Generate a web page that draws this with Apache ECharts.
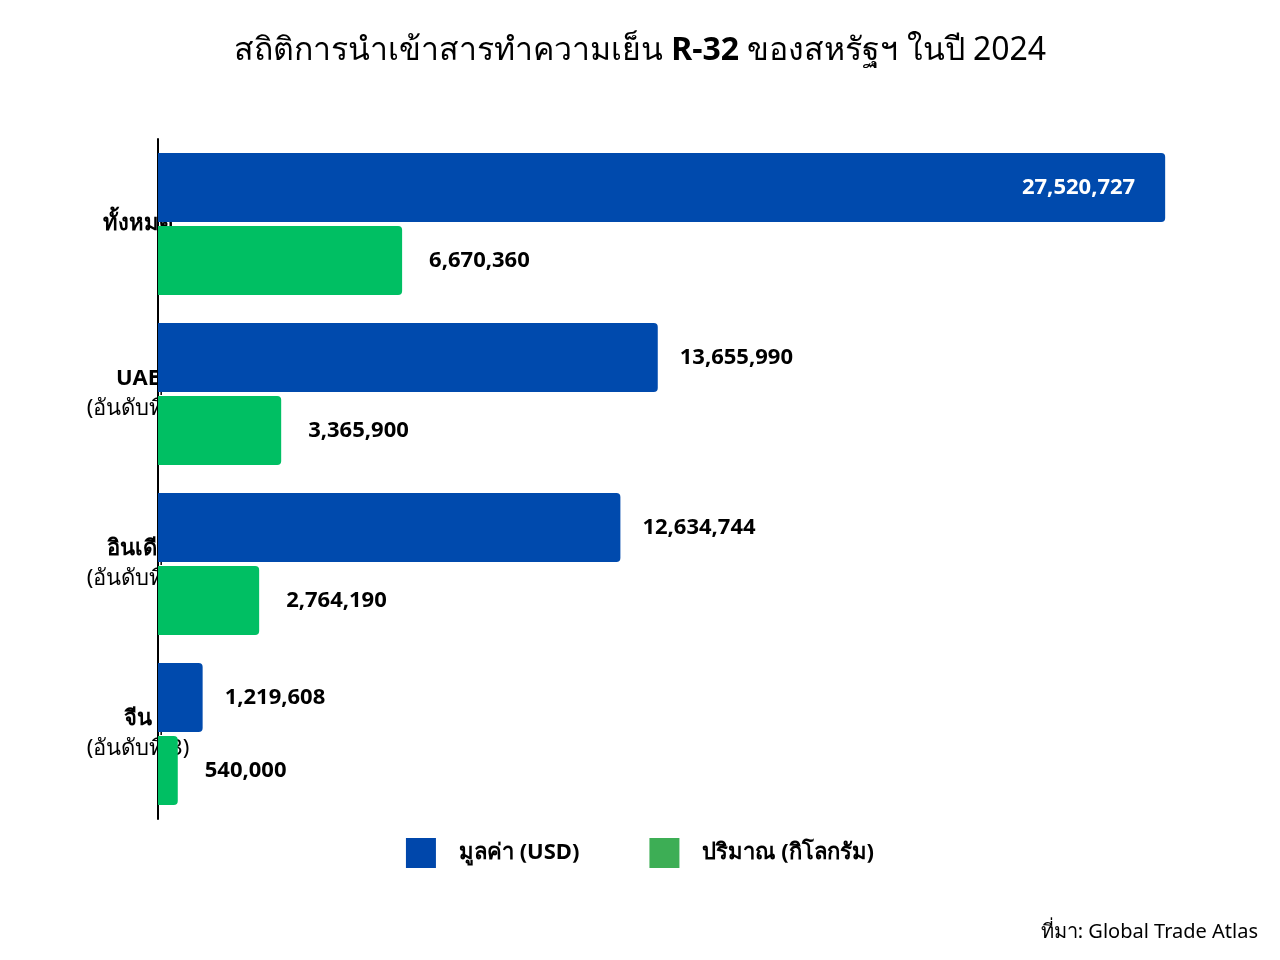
<!DOCTYPE html>
<html><head><meta charset="utf-8">
<script src="https://cdn.jsdelivr.net/npm/echarts@6/dist/echarts.min.js"></script>
<style>html,body{margin:0;padding:0;background:#fff}#c{width:1280px;height:960px}</style>
</head><body><div id="c"></div>
<script>
const categories = ['ทั้งหมด', 'UAE', 'อินเดีย', 'จีน'];
const ranks = ['', '(อันดับที่ 1)', '(อันดับที่ 2)', '(อันดับที่ 3)'];
const valueUSD = [27520727, 13655990, 12634744, 1219608];
const volumeKg = [6670360, 3365900, 2764190, 540000];
const seriesNames = ['มูลค่า (USD)', 'ปริมาณ (กิโลกรัม)'];

const F = '"Noto Sans", sans-serif';
const chart = echarts.init(document.getElementById('c'));
const fmt = v => v.toLocaleString('en-US');
chart.setOption({
  backgroundColor: '#fff',
  animation: false,
  textStyle: { fontFamily: F },
  title: { text: 'สถิติการนำเข้าสารทำความเย็น {b|R-32} ของสหรัฐฯ ในปี 2024', left: 'center', top: 30,
    textStyle: { fontSize: 32, fontWeight: 'normal', color: '#000', fontFamily: F,
      rich: { b: { fontSize: 32, fontWeight: 'bold', fontFamily: F, color: '#000' } } } },
  grid: { left: 158, top: 139, width: 1043, height: 680, containLabel: false },
  xAxis: { type: 'value', min: 0, max: 28500000, show: false },
  yAxis: { type: 'category', inverse: true, data: categories,
    axisLine: { show: true, lineStyle: { color: '#000', width: 2 } },
    axisTick: { show: false },
    axisLabel: { margin: 20, align: 'center', padding: [0, 0, 0, 0],
      formatter: (v, i) => ranks[i] ? '{n|' + v + '}\n{r|' + ranks[i] + '}' : '{n|' + v + '}',
      rich: { n: { fontSize: 22, fontWeight: 'bold', color: '#000', fontFamily: F, lineHeight: 30 },
              r: { fontSize: 22, color: '#000', fontFamily: F, lineHeight: 30 } } },
    offset: 0 },
  legend: { bottom: 87, left: 'center', itemWidth: 30, itemHeight: 30, itemGap: 70, icon: 'rect',
    textStyle: { fontSize: 22, fontWeight: 'bold', color: '#000', fontFamily: F, padding: [0, 0, 0, 18] },
    data: [{ name: seriesNames[0], itemStyle: { color: '#0047AB' } },
           { name: seriesNames[1], itemStyle: { color: '#3DAE55' } }] },
  series: [
    { name: seriesNames[0], type: 'bar', data: valueUSD.map((v, i) => i === 0 ? { value: v, label: { position: 'insideRight', color: '#fff', distance: 30 } } : v),
      barWidth: 69, barGap: '6%', itemStyle: { color: '#004AAD', borderRadius: [0, 4, 4, 0] },
      label: { show: true, position: 'right', distance: 22, formatter: p => fmt(p.value), fontSize: 22, fontWeight: 'bold', color: '#000', fontFamily: F } },
    { name: seriesNames[1], type: 'bar', data: volumeKg,
      barWidth: 69, itemStyle: { color: '#00BF63', borderRadius: [0, 4, 4, 0] },
      label: { show: true, position: 'right', distance: 27, formatter: p => fmt(p.value), fontSize: 22, fontWeight: 'bold', color: '#000', fontFamily: F } }
  ],
  graphic: [{ type: 'text', right: 22, top: 922, style: { text: 'ที่มา: Global Trade Atlas', fontSize: 20, fill: '#000', fontFamily: F } }]
});
</script></body></html>
